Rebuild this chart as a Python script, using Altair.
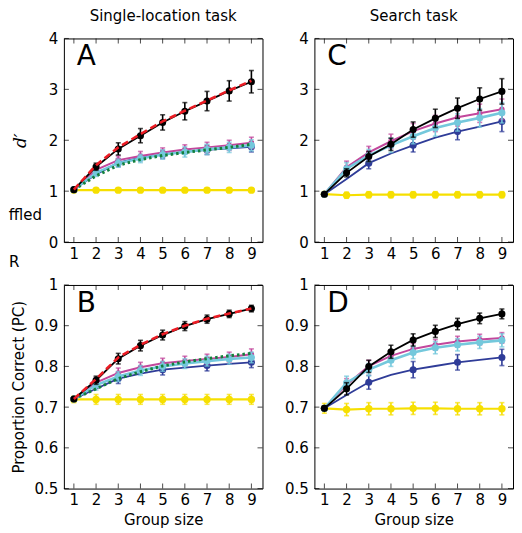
import altair as alt
import pandas as pd

FONT = "DejaVu Sans"
FS = 15
W, H = 199, 204

group_size = [1, 2, 3, 4, 5, 6, 7, 8, 9]
odd_sizes = [1, 3, 5, 7, 9]
dprime_ticks = [0, 1, 2, 3, 4]
pc_ticks = [0.5, 0.6, 0.7, 0.8, 0.9, 1.0]

# ---- Panel A: single-location task, d'
A_group = [1.03, 1.48, 1.83, 2.09, 2.35, 2.57, 2.77, 2.97, 3.15]
A_group_err = [0.03, 0.07, 0.12, 0.14, 0.15, 0.17, 0.19, 0.20, 0.22]
A_group_model = [1.03, 1.51, 1.86, 2.12, 2.37, 2.58, 2.78, 2.98, 3.17]
A_rule1 = [1.03, 1.42, 1.61, 1.69, 1.76, 1.82, 1.86, 1.90, 1.95]
A_rule1_err = [0.03, 0.07, 0.08, 0.09, 0.09, 0.09, 0.10, 0.10, 0.11]
A_rule2 = [1.03, 1.36, 1.55, 1.64, 1.72, 1.77, 1.82, 1.86, 1.90]
A_rule2_err = [0.03, 0.07, 0.08, 0.08, 0.09, 0.10, 0.10, 0.10, 0.11]
A_rule3 = [1.03, 1.33, 1.56, 1.66, 1.72, 1.77, 1.81, 1.84, 1.87]
A_rule3_err = [0.03, 0.08, 0.08, 0.09, 0.10]
A_rule_model = [1.03, 1.30, 1.51, 1.62, 1.70, 1.76, 1.81, 1.86, 1.92]
A_shuffled = [1.02, 1.02, 1.02, 1.02, 1.02, 1.02, 1.02, 1.02, 1.02]
A_shuffled_err = [0.04, 0.04, 0.04, 0.04, 0.04, 0.04, 0.04, 0.04, 0.04]

# ---- Panel C: search task, d'
C_group = [0.94, 1.36, 1.68, 1.92, 2.21, 2.43, 2.63, 2.81, 2.96]
C_group_err = [0.03, 0.08, 0.10, 0.12, 0.15, 0.18, 0.20, 0.22, 0.25]
C_rule1 = [0.94, 1.47, 1.76, 1.98, 2.18, 2.33, 2.45, 2.53, 2.61]
C_rule1_err = [0.03, 0.12, 0.12, 0.14, 0.15, 0.16, 0.17, 0.18, 0.20]
C_rule2 = [0.94, 1.44, 1.70, 1.90, 2.08, 2.24, 2.35, 2.44, 2.54]
C_rule2_err = [0.03, 0.12, 0.12, 0.14, 0.15, 0.16, 0.17, 0.18, 0.20]
C_rule3 = [0.94, 1.24, 1.55, 1.74, 1.90, 2.05, 2.17, 2.27, 2.37]
C_rule3_err = [0.03, 0.11, 0.13, 0.16, 0.20]
C_shuffled = [0.94, 0.92, 0.93, 0.93, 0.93, 0.93, 0.93, 0.93, 0.93]
C_shuffled_err = [0.04, 0.06, 0.06, 0.06, 0.06, 0.06, 0.06, 0.06, 0.06]

# ---- Panel B: single-location task, proportion correct
B_group = [0.720, 0.766, 0.819, 0.851, 0.877, 0.899, 0.916, 0.929, 0.942]
B_group_err = [0.004, 0.010, 0.013, 0.013, 0.012, 0.011, 0.010, 0.009, 0.008]
B_group_model = [0.720, 0.769, 0.822, 0.853, 0.879, 0.900, 0.917, 0.930, 0.942]
B_rule1 = [0.720, 0.760, 0.784, 0.798, 0.808, 0.813, 0.818, 0.823, 0.830]
B_rule1_err = [0.004, 0.012, 0.012, 0.012, 0.012, 0.012, 0.012, 0.012, 0.013]
B_rule2 = [0.720, 0.754, 0.775, 0.790, 0.800, 0.807, 0.813, 0.818, 0.822]
B_rule2_err = [0.004, 0.012, 0.012, 0.012, 0.012, 0.012, 0.012, 0.012, 0.013]
B_rule3 = [0.720, 0.745, 0.770, 0.782, 0.792, 0.797, 0.802, 0.806, 0.810]
B_rule3_err = [0.004, 0.012, 0.013, 0.013, 0.013]
B_rule_model = [0.720, 0.745, 0.770, 0.787, 0.801, 0.811, 0.819, 0.826, 0.832]
B_shuffled = [0.719, 0.719, 0.719, 0.719, 0.719, 0.719, 0.719, 0.719, 0.719]
B_shuffled_err = [0.008, 0.012, 0.012, 0.012, 0.012, 0.012, 0.012, 0.012, 0.012]

# ---- Panel D: search task, proportion correct
D_group = [0.697, 0.745, 0.800, 0.836, 0.865, 0.886, 0.904, 0.918, 0.929]
D_group_err = [0.005, 0.015, 0.015, 0.016, 0.015, 0.015, 0.014, 0.013, 0.012]
D_rule1 = [0.697, 0.755, 0.801, 0.826, 0.843, 0.853, 0.861, 0.866, 0.870]
D_rule1_err = [0.005, 0.015, 0.014, 0.014, 0.013, 0.013, 0.013, 0.013, 0.013]
D_rule2 = [0.697, 0.760, 0.792, 0.815, 0.834, 0.846, 0.853, 0.859, 0.864]
D_rule2_err = [0.005, 0.016, 0.015, 0.015, 0.015, 0.015, 0.015, 0.015, 0.016]
D_rule3 = [0.697, 0.730, 0.761, 0.779, 0.792, 0.801, 0.810, 0.816, 0.822]
D_rule3_err = [0.005, 0.017, 0.020, 0.019, 0.020]
D_shuffled = [0.697, 0.694, 0.696, 0.696, 0.697, 0.697, 0.696, 0.696, 0.696]
D_shuffled_err = [0.012, 0.015, 0.015, 0.015, 0.015, 0.015, 0.015, 0.015, 0.015]

# ---- styles (drawing order = list order)
STYLE = [
    ("shuffled", dict(color="#f6df00", width=2.2, dash=None, size=55)),
    ("rule3", dict(color="#2f3c98", width=1.8, dash=None, size=50)),
    ("rule1", dict(color="#c2479c", width=2.0, dash=None, size=30)),
    ("rule2", dict(color="#74c8dc", width=2.6, dash=None, size=50)),
    ("rule_model", dict(color="#13803d", width=3.0, dash=[2.5, 3], size=0)),
    ("group", dict(color="#000000", width=1.8, dash=None, size=50)),
    ("group_model", dict(color="#ec1c24", width=2.6, dash=[7, 4], size=0)),
]

line_rows, pt_rows = [], []


def add(panel, series, y, err=None, err_x=None):
    for x, v in zip(group_size, y):
        line_rows.append(dict(panel=panel, series=series, x=x, y=v))
    if err is not None:
        ex = err_x if err_x is not None else group_size
        for x, e in zip(ex, err):
            v = y[group_size.index(x)]
            pt_rows.append(dict(panel=panel, series=series, x=x, y=v, lo=v - e, hi=v + e))


add("A", "group", A_group, A_group_err)
add("A", "group_model", A_group_model)
add("A", "rule1", A_rule1, A_rule1_err)
add("A", "rule2", A_rule2, A_rule2_err)
add("A", "rule3", A_rule3, A_rule3_err, odd_sizes)
add("A", "rule_model", A_rule_model)
add("A", "shuffled", A_shuffled, A_shuffled_err)

add("C", "group", C_group, C_group_err)
add("C", "rule1", C_rule1, C_rule1_err)
add("C", "rule2", C_rule2, C_rule2_err)
add("C", "rule3", C_rule3, C_rule3_err, odd_sizes)
add("C", "shuffled", C_shuffled, C_shuffled_err)

add("B", "group", B_group, B_group_err)
add("B", "group_model", B_group_model)
add("B", "rule1", B_rule1, B_rule1_err)
add("B", "rule2", B_rule2, B_rule2_err)
add("B", "rule3", B_rule3, B_rule3_err, odd_sizes)
add("B", "rule_model", B_rule_model)
add("B", "shuffled", B_shuffled, B_shuffled_err)

add("D", "group", D_group, D_group_err)
add("D", "rule1", D_rule1, D_rule1_err)
add("D", "rule2", D_rule2, D_rule2_err)
add("D", "rule3", D_rule3, D_rule3_err, odd_sizes)
add("D", "shuffled", D_shuffled, D_shuffled_err)

lines = pd.DataFrame(line_rows)
points = pd.DataFrame(pt_rows)


def make_panel(pid, ydom, yticks, ytitle, ytitle_pad, xtitle, title=None,
               ytitle_style=None, fragments=False):
    xscale = alt.Scale(domain=[0.55, 9.5], nice=False, zero=False)
    yscale = alt.Scale(domain=ydom, nice=False, zero=False)
    xaxis = alt.Axis(values=group_size, title=xtitle, labelPadding=4,
                     titlePadding=5, labelFlush=False)
    yargs = dict(values=yticks, format="~g", title=ytitle, titlePadding=ytitle_pad,
                 labelPadding=6)
    if ytitle_style:
        yargs.update(ytitle_style)
    yaxis = alt.Axis(**yargs)

    def X(f):
        return alt.X(f, type="quantitative", scale=xscale, axis=xaxis)

    def Y(f):
        return alt.Y(f, type="quantitative", scale=yscale, axis=yaxis)

    layers = []
    ld = lines[lines.panel == pid]
    pd_ = points[points.panel == pid]
    for s, st in STYLE:
        sl = ld[ld.series == s]
        if sl.empty:
            continue
        mk = dict(color=st["color"], strokeWidth=st["width"])
        if st["dash"]:
            mk["strokeDash"] = st["dash"]
        layers.append(alt.Chart(sl).mark_line(**mk).encode(x=X("x"), y=Y("y")))
        sp = pd_[pd_.series == s]
        if not sp.empty:
            layers.append(alt.Chart(sp).mark_rule(color=st["color"], strokeWidth=1.6)
                          .encode(x=X("x"), y=Y("lo"), y2="hi"))
            for f in ["lo", "hi"]:
                layers.append(alt.Chart(sp).mark_tick(orient="horizontal", size=5,
                                                      thickness=1.6, color=st["color"])
                              .encode(x=X("x"), y=Y(f)))
            layers.append(alt.Chart(sp).mark_point(filled=True, opacity=1, shape="circle",
                                                   size=st["size"], color=st["color"])
                          .encode(x=X("x"), y=Y("y")))

    ty = pd.DataFrame({"v": yticks})
    tx = pd.DataFrame({"v": group_size})
    tk = dict(size=5, thickness=1, color="black")
    layers += [
        alt.Chart(ty).mark_tick(orient="horizontal", **tk).encode(y=Y("v"), x=alt.value(2.5)),
        alt.Chart(ty).mark_tick(orient="horizontal", **tk).encode(y=Y("v"), x=alt.value(W - 2.5)),
        alt.Chart(tx).mark_tick(orient="vertical", **tk).encode(x=X("v"), y=alt.value(H - 2.5)),
        alt.Chart(tx).mark_tick(orient="vertical", **tk).encode(x=X("v"), y=alt.value(2.5)),
    ]
    layers.append(
        alt.Chart(pd.DataFrame({"t": [pid]}))
        .mark_text(align="left", baseline="top", fontSize=28, font=FONT, color="black")
        .encode(text="t:N", x=alt.value(13), y=alt.value(5))
    )
    if fragments:
        layers.append(
            alt.Chart(pd.DataFrame({"t": ["ffled"]}))
            .mark_text(align="right", baseline="middle", fontSize=FS, font=FONT, color="black")
            .encode(text="t:N", x=alt.value(-22), y=alt.value(177))
        )
        layers.append(
            alt.Chart(pd.DataFrame({"t": ["R"]}))
            .mark_text(align="left", baseline="middle", fontSize=FS, font=FONT, color="black")
            .encode(text="t:N", x=alt.value(-55), y=alt.value(H + 20))
        )
    ch = alt.layer(*layers).properties(width=W, height=H)
    if title:
        ch = ch.properties(title=alt.TitleParams(title, fontSize=FS, font=FONT,
                                                 fontWeight="normal", anchor="middle",
                                                 offset=7, color="black"))
    return ch


dstyle = dict(titleFont="DejaVu Serif", titleFontStyle="italic", titleFontSize=17)

pA = make_panel("A", [0, 4], dprime_ticks, "d′", 19, None,
                title="Single-location task", ytitle_style=dstyle, fragments=True)
pC = make_panel("C", [0, 4], dprime_ticks, None, 0, None, title="Search task")
pB = make_panel("B", [0.5, 1.0], pc_ticks, "Proportion Correct (PC)", 8, "Group size")
pD = make_panel("D", [0.5, 1.0], pc_ticks, None, 0, "Group size")

chart = (
    alt.concat(pA, pC, pB, pD, columns=2, spacing={"row": 6, "column": 20})
    .properties(padding=0)
    .configure_view(stroke="black", strokeWidth=1)
    .configure_axis(grid=False, domain=False, ticks=False, tickSize=0,
                    labelFont=FONT, labelFontSize=FS, labelColor="black",
                    titleFont=FONT, titleFontSize=FS, titleFontWeight="normal",
                    titleColor="black")
)

chart.save("out.html", embed_options={"renderer": "svg", "actions": False})
